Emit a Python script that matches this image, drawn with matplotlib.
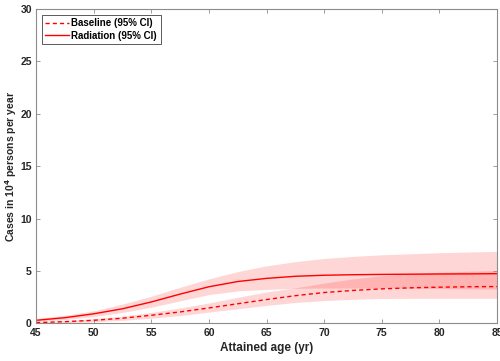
import matplotlib
matplotlib.use("Agg")
import matplotlib.pyplot as plt
from matplotlib.lines import Line2D

plt.rcParams['font.family'] = ['Liberation Sans', 'DejaVu Sans']
plt.rcParams['font.weight'] = 'bold'

# Attained age (years)
age = [45, 47.5, 50, 52.5, 55, 57.5, 60, 62.5, 65, 67.5, 70, 72.5, 75, 77.5, 80, 82.5, 85]

# Radiation-exposed cases per 10^4 person-years, with 95% CI
radiation = [0.30, 0.55, 0.92, 1.40, 2.05, 2.80, 3.50, 4.00, 4.30, 4.50, 4.60, 4.65, 4.68, 4.70, 4.72, 4.73, 4.75]
radiation_hi = [0.48, 0.78, 1.20, 1.85, 2.60, 3.45, 4.25, 4.95, 5.50, 5.90, 6.20, 6.40, 6.55, 6.65, 6.75, 6.82, 6.88]
radiation_lo = [0.17, 0.38, 0.65, 1.05, 1.55, 2.15, 2.75, 3.10, 3.25, 3.35, 3.38, 3.38, 3.38, 3.36, 3.33, 3.30, 3.28]

# Baseline cases per 10^4 person-years, with 95% CI
baseline = [0.08, 0.17, 0.30, 0.50, 0.78, 1.10, 1.48, 1.88, 2.28, 2.65, 2.95, 3.15, 3.30, 3.40, 3.46, 3.50, 3.52]
baseline_hi = [0.15, 0.28, 0.45, 0.70, 1.05, 1.48, 1.95, 2.50, 3.00, 3.40, 3.85, 4.25, 4.55, 4.75, 4.88, 4.98, 5.05]
baseline_lo = [0.03, 0.08, 0.16, 0.30, 0.50, 0.75, 1.08, 1.40, 1.72, 2.00, 2.18, 2.30, 2.38, 2.40, 2.40, 2.40, 2.40]

x_ticks = [45, 50, 55, 60, 65, 70, 75, 80, 85]
y_ticks = [0, 5, 10, 15, 20, 25, 30]

fig = plt.figure(figsize=(5.0, 3.61), dpi=100)
ax = fig.add_axes([0.072, 0.104, 0.922, 0.871])

band_kw = dict(color='red', alpha=0.16, linewidth=0)
ax.fill_between(age, baseline_lo, baseline_hi, **band_kw)
ax.fill_between(age, radiation_lo, radiation_hi, **band_kw)
ax.plot(age, baseline, color='red', linestyle=(0, (3, 2.2)), linewidth=1.0)
ax.plot(age, radiation, color='red', linestyle='-', linewidth=1.0)

ax.set_xlim(45, 85)
ax.set_ylim(0, 30)
ax.set_xticks(x_ticks)
ax.set_yticks(y_ticks)

edge = '#8c8c8c'
for s in ax.spines.values():
    s.set_color(edge)
    s.set_linewidth(0.8)
ax.tick_params(direction='in', length=3, width=0.6, color=edge,
               top=True, right=True, labelsize=7.5, labelcolor='#262626', pad=3)
for lbl in ax.get_xticklabels() + ax.get_yticklabels():
    lbl.set_fontweight('bold')

ax.set_xlabel('Attained age (yr)', fontsize=8.5, fontweight='bold', color='#262626', labelpad=3)
ax.set_ylabel('Cases in 10$^\\mathbf{4}$ persons per year', fontsize=7.5, fontweight='bold',
              color='#262626')
ax.yaxis.set_label_coords(-0.037, 0.5)

handles = [Line2D([], [], color='red', linestyle=(0, (3, 2.2)), linewidth=1.0),
           Line2D([], [], color='red', linestyle='-', linewidth=1.0)]
leg = ax.legend(handles, ['Baseline (95% CI)', 'Radiation (95% CI)'], loc='upper left',
                prop={'weight': 'bold', 'size': 7}, fancybox=False,
                edgecolor='#404040', framealpha=1, handlelength=2.4, handletextpad=0.3,
                borderpad=0.35, labelspacing=0.25, borderaxespad=0.6)
leg.get_frame().set_linewidth(0.6)

fig.savefig('out.png', dpi=100)
